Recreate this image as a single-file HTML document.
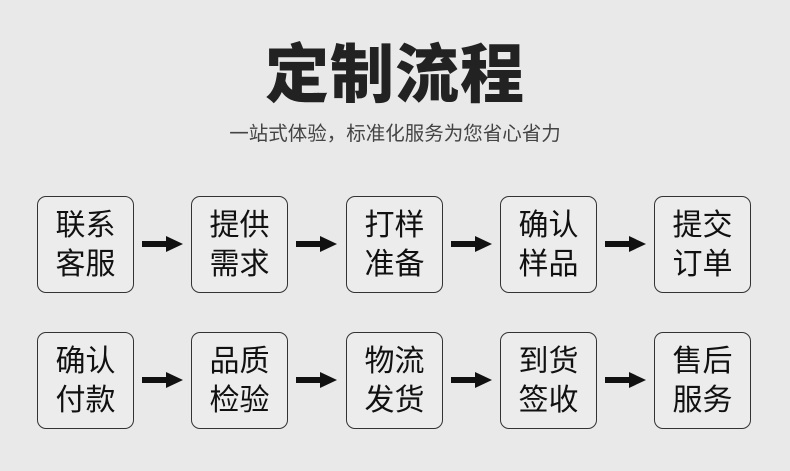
<!DOCTYPE html>
<html><head><meta charset="utf-8"><style>
body{margin:0;width:790px;height:471px;background:#e9e9e9;position:relative;overflow:hidden;font-family:"Liberation Sans","Noto Sans CJK SC",sans-serif;}
.t{position:absolute;left:0;width:790px;top:32px;text-align:center;font-size:64px;font-weight:900;color:#222;line-height:86px;letter-spacing:1px}
.s{position:absolute;left:0;width:790px;top:121px;text-align:center;font-size:19.5px;color:#444;line-height:26px}
.b{position:absolute;width:95px;height:95px;border:1.5px solid #333;border-radius:9px;background:#ececec;box-sizing:content-box;text-align:center;font-size:30px;line-height:39px;color:#111;display:flex;align-items:center;justify-content:center}
</style></head><body>
<div class="t">定制流程</div>
<div class="s">一站式体验，标准化服务为您省心省力</div>
<div class="b" style="left:37px;top:196px">联系<br>客服</div>
<div class="b" style="left:191px;top:196px">提供<br>需求</div>
<div class="b" style="left:346px;top:196px">打样<br>准备</div>
<div class="b" style="left:500px;top:196px">确认<br>样品</div>
<div class="b" style="left:654px;top:196px">提交<br>订单</div>
<div class="b" style="left:37px;top:332px">确认<br>付款</div>
<div class="b" style="left:191px;top:332px">品质<br>检验</div>
<div class="b" style="left:346px;top:332px">物流<br>发货</div>
<div class="b" style="left:500px;top:332px">到货<br>签收</div>
<div class="b" style="left:654px;top:332px">售后<br>服务</div>
<svg width="790" height="471" style="position:absolute;left:0;top:0">
<g fill="#111">
<g id="ar"><rect x="142" y="241" width="26" height="6"/><polygon points="166,236 183,244 166,252"/></g>
<use href="#ar" x="154"/><use href="#ar" x="309"/><use href="#ar" x="463"/>
<use href="#ar" y="136"/><use href="#ar" x="154" y="136"/><use href="#ar" x="309" y="136"/><use href="#ar" x="463" y="136"/>
</g></svg>
</body></html>
